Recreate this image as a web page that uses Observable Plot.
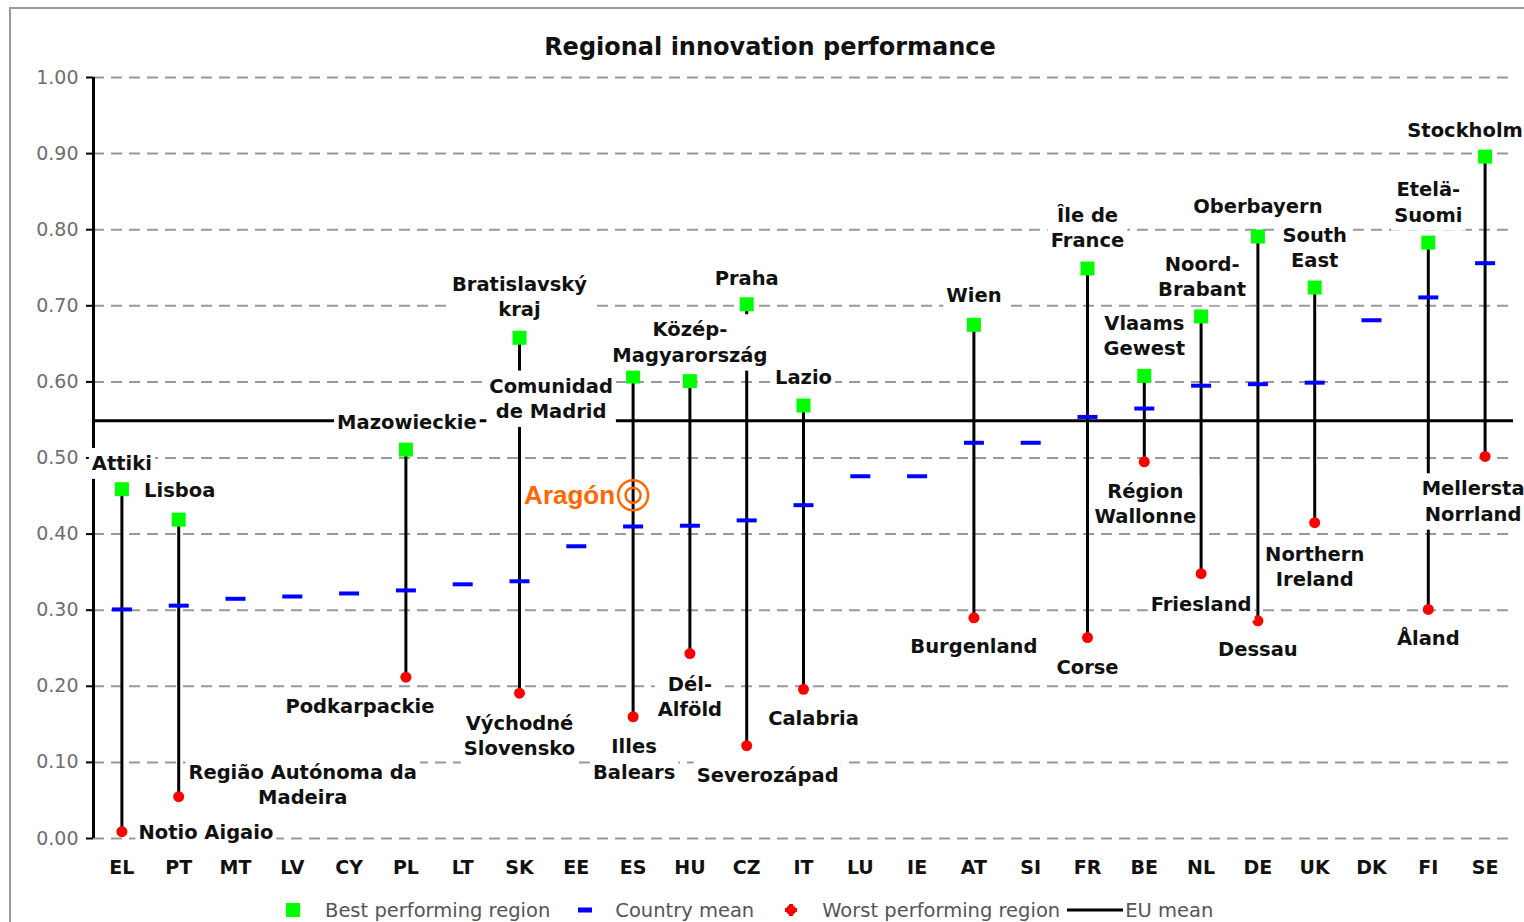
<!DOCTYPE html>
<html>
<head>
<meta charset="utf-8">
<script src="https://cdn.jsdelivr.net/npm/d3@7"></script>
<script src="https://cdn.jsdelivr.net/npm/@observablehq/plot@0.6"></script>
<style>
html, body { margin: 0; padding: 0; background: #fff; overflow: hidden; width: 1524px; height: 922px; }
#frame { position: absolute; left: 9px; top: 7px; width: 1560px; height: 1000px; border: 2px solid #9a9a9a; box-sizing: border-box; }
#title { position: absolute; left: 0; width: 1540px; top: 32px; text-align: center; font: bold 24px "DejaVu Sans"; color: #111; line-height: 30px; }
#chart { position: absolute; left: 0; top: 0; }
#legend { position: absolute; left: 286px; top: 898px; height: 24px; display: flex; align-items: center; font: 19.5px "DejaVu Sans"; color: #555; white-space: nowrap; }
#legend svg { display: block; }
#chart svg [aria-label^="y-axis"] text { fill: #6e6e6e; }
#chart svg [aria-label^="y-axis"] line, #chart svg [aria-label^="y-axis"] path { stroke: #000; stroke-width: 2px; }
#chart svg [aria-label^="x-axis"] text { font-weight: bold; fill: #111; font-size: 19px; }
</style>
</head>
<body>
<div id="frame"></div>
<div id="chart"></div>
<div id="title">Regional innovation performance</div>
<div id="legend"></div>
<script>
// ---------- data ----------
const countries = ["EL","PT","MT","LV","CY","PL","LT","SK","EE","ES","HU","CZ","IT","LU","IE","AT","SI","FR","BE","NL","DE","UK","DK","FI","SE"];
const countryMean = [0.301,0.306,0.315,0.318,0.322,0.326,0.334,0.338,0.384,0.410,0.411,0.418,0.438,0.476,0.476,0.520,0.520,0.554,0.565,0.595,0.597,0.599,0.681,0.711,0.756];
const bestRegion = ["Attiki","Lisboa",null,null,null,"Mazowieckie",null,"Bratislavský\nkraj",null,"Comunidad\nde Madrid","Közép-\nMagyarország","Praha","Lazio",null,null,"Wien",null,"Île de\nFrance","Vlaams\nGewest","Noord-\nBrabant","Oberbayern","South\nEast",null,"Etelä-\nSuomi","Stockholm"];
const bestValue = [0.459,0.419,null,null,null,0.511,null,0.658,null,0.607,0.601,0.702,0.569,null,null,0.675,null,0.749,0.608,0.686,0.791,0.724,null,0.783,0.896];
const worstRegion = ["Notio Aigaio","Região Autónoma da\nMadeira",null,null,null,"Podkarpackie",null,"Východné\nSlovensko",null,"Illes\nBalears","Dél-\nAlföld","Severozápad","Calabria",null,null,"Burgenland",null,"Corse","Région\nWallonne","Friesland","Dessau","Northern\nIreland",null,"Åland","Mellersta\nNorrland"];
const worstValue = [0.009,0.055,null,null,null,0.212,null,0.191,null,0.160,0.243,0.122,0.196,null,null,0.290,null,0.264,0.495,0.348,0.286,0.415,null,0.301,0.502];
const euMean = 0.549;
const yTicks = [0,0.1,0.2,0.3,0.4,0.5,0.6,0.7,0.8,0.9,1.0];
const aragonName = "Aragón";
const aragonCountry = "ES";
const aragonValue = 0.451;
const legendItems = ["Best performing region","Country mean","Worst performing region","EU mean"];

// ---------- annotation layout: label anchor (value units) and horizontal shift (px) ----------
const labelLayout = {
  "Attiki": [0.495, 0], "Lisboa": [0.459, 1], "Mazowieckie": [0.549, 1],
  "Bratislavský\nkraj": [0.714, 0], "Comunidad\nde Madrid": [0.580, -82],
  "Közép-\nMagyarország": [0.654, 0], "Praha": [0.738, 0], "Lazio": [0.608, 0],
  "Wien": [0.716, 0], "Île de\nFrance": [0.804, 0], "Vlaams\nGewest": [0.662, 0],
  "Noord-\nBrabant": [0.740, 1], "Oberbayern": [0.832, 0], "South\nEast": [0.778, 0],
  "Etelä-\nSuomi": [0.838, 0], "Stockholm": [0.933, -20],
  "Notio Aigaio": [0.0105, 84], "Região Autónoma da\nMadeira": [0.072, 124],
  "Podkarpackie": [0.175, -46], "Východné\nSlovensko": [0.137, 0],
  "Illes\nBalears": [0.106, 1], "Dél-\nAlföld": [0.188, 0], "Severozápad": [0.085, 21],
  "Calabria": [0.160, 10], "Burgenland": [0.254, 0], "Corse": [0.227, 0],
  "Région\nWallonne": [0.442, 1], "Friesland": [0.309, 0], "Dessau": [0.250, 0],
  "Northern\nIreland": [0.359, 0], "Åland": [0.265, 0], "Mellersta\nNorrland": [0.445, -12]
};

// ---------- build ----------
const rows = countries.map((c, i) => ({country: c, mean: countryMean[i], best: bestValue[i], worst: worstValue[i], bestName: bestRegion[i], worstName: worstRegion[i]}));
const ranged = rows.filter(d => d.best != null);
const labels = [];
ranged.forEach(d => {
  for (const name of [d.bestName, d.worstName]) {
    const [y, dx] = labelLayout[name];
    labels.push({country: d.country, text: name, y, dx});
  }
});

const W = 1524, H = 890, mL = 93, mR = 11, mT = 77, mB = 52;
const step = (W - mL - mR) / countries.length;
const meanSymbol = {draw(ctx) { ctx.rect(-10, -2, 20, 4); }};

const labelMarks = labels.map(l => Plot.text([l], {
  x: "country", y: "y", text: "text", dx: l.dx,
  fontSize: 19.5, fontWeight: "bold", fill: "#111", lineHeight: 1.3
}));

const svg = Plot.plot({
  width: W, height: H,
  marginLeft: mL, marginRight: mR, marginTop: mT, marginBottom: mB,
  style: {fontFamily: "DejaVu Sans", fontSize: "19px", background: "transparent", overflow: "visible"},
  x: {type: "band", domain: countries, padding: 0, round: false, label: null, tickSize: 0, tickPadding: 22},
  y: {domain: [0, 1], ticks: yTicks, tickFormat: ".2f", tickSize: 7, tickPadding: 8, label: null},
  marks: [
    Plot.ruleY(yTicks, {stroke: "#999", strokeWidth: 2, strokeDasharray: "11,7"}),
    Plot.ruleY([euMean], {stroke: "#000", strokeWidth: 3}),
    Plot.ruleX(ranged, {x: "country", y1: "worst", y2: "best", stroke: "#000", strokeWidth: 3}),
    Plot.ruleX([countries[0]], {x: d => d, y1: 0, y2: 1, dx: -step / 2, stroke: "#000", strokeWidth: 3}),
    Plot.dot(rows, {x: "country", y: "mean", symbol: meanSymbol, fill: "#0000ff", stroke: null}),
    Plot.dot(ranged, {x: "country", y: "best", symbol: "square", r: 7.9, fill: "#00ff00", stroke: null}),
    Plot.dot(ranged, {x: "country", y: "worst", r: 5.5, fill: "#ff0000", stroke: null}),
    Plot.dot(ranged, {x: "country", y: "worst", symbol: "cross", r: 2.8, fill: "#ff0000", stroke: null}),
    Plot.text([aragonValue], {x: () => aragonCountry, y: d => d, text: () => aragonName, textAnchor: "end", dx: -18,
      fill: "#ff6600", fontSize: 26, fontWeight: "bold", fontFamily: "Liberation Sans"}),
    Plot.dot([aragonValue], {x: () => aragonCountry, y: d => d, r: 15, stroke: "#ff6600", strokeWidth: 2.5, fill: "none"}),
    Plot.dot([aragonValue], {x: () => aragonCountry, y: d => d, r: 7.5, stroke: "#ff6600", strokeWidth: 2.5, fill: "none"}),
    ...labelMarks
  ]
});
document.getElementById("chart").append(svg);

// white boxes behind region labels (as in the original)
const labelTexts = new Set();
const labelTextSet = new Set(labels.map(l => l.text.replace(/\n/g, "")));
svg.querySelectorAll("text").forEach(t => {
  if (labelTextSet.has(t.textContent) && t.closest("g") && !t.closest('[aria-label*="axis"]')) labelTexts.add(t);
});
labelTexts.forEach(t => {
  const b = t.getBBox();
  const r = document.createElementNS("http://www.w3.org/2000/svg", "rect");
  r.setAttribute("x", b.x - 3);
  r.setAttribute("y", b.y - 4);
  r.setAttribute("width", b.width + 6);
  r.setAttribute("height", b.height + 8);
  r.setAttribute("fill", "#fff");
  r.setAttribute("stroke", "none");
  const tr = t.getAttribute("transform");
  if (tr) r.setAttribute("transform", tr);
  t.parentNode.insertBefore(r, t);
});

// legend
const legend = document.getElementById("legend");
const NS = "http://www.w3.org/2000/svg";
function swatch(kind) {
  const s = document.createElementNS(NS, "svg");
  if (kind === 0) { s.setAttribute("width", 14); s.setAttribute("height", 14);
    s.innerHTML = '<rect x="0" y="0" width="14" height="14" fill="#00ff00"/>'; }
  if (kind === 1) { s.setAttribute("width", 14); s.setAttribute("height", 6);
    s.innerHTML = '<rect x="0" y="0.5" width="14" height="5" fill="#0000ff"/>'; }
  if (kind === 2) { s.setAttribute("width", 14); s.setAttribute("height", 14);
    s.innerHTML = '<circle cx="7" cy="7" r="5" fill="#ff0000"/><path d="M5,1h4v4h4v4h-4v4h-4v-4h-4v-4h4z" fill="#ff0000"/>'; }
  if (kind === 3) { s.setAttribute("width", 56); s.setAttribute("height", 4);
    s.innerHTML = '<rect x="0" y="0.5" width="56" height="3" fill="#000"/>'; }
  return s;
}
const gapsBefore = [0, 28, 30, 7];
const gapsAfter = [25, 23, 24, 2];
legendItems.forEach((txt, i) => {
  const sw = swatch(i);
  sw.style.marginLeft = gapsBefore[i] + "px";
  sw.style.marginRight = gapsAfter[i] + "px";
  legend.append(sw);
  const sp = document.createElement("span");
  sp.textContent = txt;
  legend.append(sp);
});
</script>
</body>
</html>
